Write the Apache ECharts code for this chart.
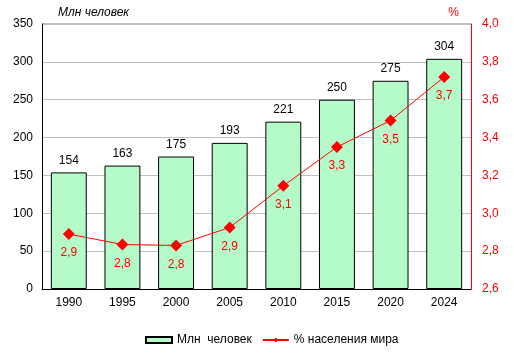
<!DOCTYPE html>
<html>
<head>
<meta charset="utf-8">
<script src="https://cdn.jsdelivr.net/npm/echarts@6/dist/echarts.min.js"></script>
<style>
  html, body { margin: 0; padding: 0; background: #fff; }
  #chart { width: 514px; height: 354px; }
</style>
</head>
<body>
<div id="chart"></div>
<script>
// данные
const years = ['1990', '1995', '2000', '2005', '2010', '2015', '2020', '2024']
const people = [154, 163, 175, 193, 221, 250, 275, 304]
const share = [2.89, 2.835, 2.83, 2.925, 3.145, 3.35, 3.49, 3.72]
const shareLabels = ['2,9', '2,8', '2,8', '2,9', '3,1', '3,3', '3,5', '3,7']

const font = 'Liberation Sans, Arial, sans-serif'
const myChart = echarts.init(document.getElementById('chart'))
const option = {
  animation: false,
  textStyle: { fontFamily: font },
  grid: { left: 42, right: 43, top: 24, bottom: 65 },
  legend: {
    bottom: 3,
    left: 140,
    itemWidth: 26,
    itemHeight: 6,
    itemGap: 10,
    textStyle: { fontSize: 12, color: '#000', fontFamily: font },
    data: [
      { name: 'Млн  человек', icon: 'rect' },
      { name: '% населения мира' }
    ]
  },
  xAxis: {
    type: 'category',
    data: years,
    axisLine: { lineStyle: { color: '#000', width: 1 } },
    axisTick: { show: false },
    axisLabel: { color: '#000', fontSize: 12, margin: 8 }
  },
  yAxis: [
    {
      type: 'value',
      min: 0,
      max: 350,
      interval: 50,
      name: 'Млн человек',
      nameLocation: 'end',
      nameGap: 5,
      nameTextStyle: { fontStyle: 'italic', color: '#000', fontSize: 12, align: 'left', padding: [0, 0, 0, 16] },
      axisLine: { show: true, lineStyle: { color: '#000' } },
      axisTick: { show: false },
      axisLabel: { color: '#000', fontSize: 12, margin: 9 },
      splitLine: { lineStyle: { color: '#c0c0c0' } }
    },
    {
      type: 'value',
      min: 2.6,
      max: 4.0,
      interval: 0.2,
      name: '%',
      nameLocation: 'end',
      nameGap: 5,
      nameTextStyle: { color: '#ff0000', fontSize: 12, align: 'right', padding: [0, 12, 0, 0] },
      position: 'right',
      axisLine: { show: true, lineStyle: { color: '#ff0000' } },
      axisTick: { show: false },
      axisLabel: {
        color: '#ff0000',
        fontSize: 12,
        margin: 11,
        formatter: v => v.toFixed(1).replace('.', ',')
      },
      splitLine: { show: false }
    }
  ],
  series: [
    {
      name: 'Млн  человек',
      type: 'bar',
      data: people,
      barWidth: '67%',
      itemStyle: { color: '#b5fbc9', borderColor: '#000', borderWidth: 1 },
      label: { show: true, position: 'top', color: '#000', fontSize: 12, distance: 6 }
    },
    {
      name: '% населения мира',
      type: 'line',
      yAxisIndex: 1,
      data: share,
      symbol: 'diamond',
      symbolSize: 12,
      lineStyle: { color: '#ff0000', width: 1 },
      itemStyle: { color: '#ff0000' },
      label: {
        show: true,
        position: 'bottom',
        distance: 7,
        color: '#ff0000',
        fontSize: 12,
        formatter: p => shareLabels[p.dataIndex]
      }
    }
  ],
  graphic: [
    {
      type: 'line',
      shape: { x1: 42, y1: 24, x2: 471, y2: 24 },
      style: { stroke: '#808080', lineWidth: 1 }
    }
  ]
}
option && myChart.setOption(option)
</script>
</body>
</html>
